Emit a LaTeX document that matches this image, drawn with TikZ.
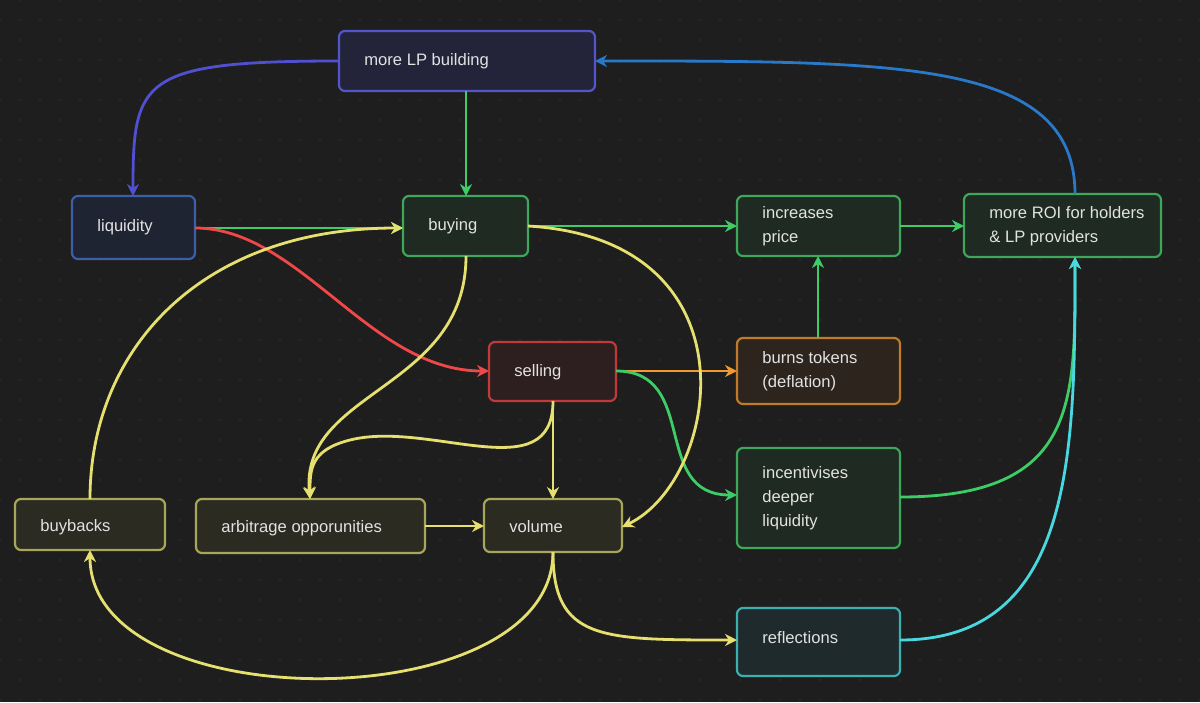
\documentclass[tikz,border=0pt]{standalone}
\usepackage{fontspec}
\setmainfont{Liberation Sans}
\usetikzlibrary{arrows.meta}
\definecolor{bg}{HTML}{1E1E1E}
\definecolor{txt}{HTML}{E2E2E2}
\definecolor{cblue}{HTML}{5455CC}\definecolor{fblue}{HTML}{23243A}
\definecolor{cliq}{HTML}{3D5FA8}\definecolor{fliq}{HTML}{1F2433}
\definecolor{cgreen}{HTML}{3EA85A}\definecolor{fgreen}{HTML}{1F2A22}
\definecolor{cred}{HTML}{C03A3A}\definecolor{fred}{HTML}{2D1F1F}
\definecolor{corange}{HTML}{C07A2A}\definecolor{forange}{HTML}{2D251D}
\definecolor{colive}{HTML}{A8A65A}\definecolor{folive}{HTML}{2B2B22}
\definecolor{cteal}{HTML}{3AB0B0}\definecolor{fteal}{HTML}{1F2A2C}
\definecolor{egreen}{HTML}{3ECC66}\definecolor{eyellow}{HTML}{E6E070}
\definecolor{ered}{HTML}{F04848}\definecolor{eorange}{HTML}{F09A30}
\definecolor{eblue}{HTML}{2A78C8}\definecolor{epurple}{HTML}{5050D0}
\definecolor{ecyan}{HTML}{4AD8E0}
\begin{document}
\begin{tikzpicture}[x=0.5pt,y=-0.5pt,
  box/.style={rounded corners=3pt,line width=1.1pt},
  lab/.style={text=txt,font=\fontsize{8.3}{12}\selectfont,align=left,anchor=west,inner sep=0pt},
  e/.style={line width=1.4pt,-{Stealth[length=6pt,width=6pt]}}]
\fill[bg] (0,0) rectangle (1200,702);
\useasboundingbox (0,0) rectangle (1200,702);
\foreach \i in {0,20,...,1200}{\foreach \j in {0,20,...,700}{\fill[white!18!bg] (\i,\j) circle (0.6);}}
% boxes
\draw[box,draw=cblue,fill=fblue] (339,31) rectangle (595,91); \node[lab] (lp) at (364,61) {more LP building};
\draw[box,draw=cliq,fill=fliq] (72,196) rectangle (195,259); \node[lab] (liq) at (97,227) {liquidity};
\draw[box,draw=cgreen,fill=fgreen] (403,196) rectangle (528,256); \node[lab] (buy) at (428,226) {buying};
\draw[box,draw=cgreen,fill=fgreen] (737,196) rectangle (900,256); \node[lab] (inc) at (762,226) {increases\\price};
\draw[box,draw=cgreen,fill=fgreen] (964,194) rectangle (1161,257); \node[lab] (roi) at (989,226) {more ROI for holders\\\& LP providers};
\draw[box,draw=cred,fill=fred] (489,342) rectangle (616,401); \node[lab] (sell) at (514,372) {selling};
\draw[box,draw=corange,fill=forange] (737,338) rectangle (900,404); \node[lab] (burn) at (762,371) {burns tokens\\(deflation)};
\draw[box,draw=cgreen,fill=fgreen] (737,448) rectangle (900,548); \node[lab] (ince) at (762,498) {incentivises\\deeper\\liquidity};
\draw[box,draw=colive,fill=folive] (15,499) rectangle (165,550); \node[lab] (bb) at (40,527) {buybacks};
\draw[box,draw=colive,fill=folive] (196,499) rectangle (425,553); \node[lab] (arb) at (221,528) {arbitrage opporunities};
\draw[box,draw=colive,fill=folive] (484,499) rectangle (622,552); \node[lab] (vol) at (509,527) {volume};
\draw[box,draw=cteal,fill=fteal] (737,608) rectangle (900,676); \node[lab] (refl) at (762,638) {reflections};
% named anchor points
\coordinate (lpL) at (339,61); \coordinate (lpB) at (466,91); \coordinate (lpR) at (595,61);
\coordinate (liqT) at (133,196); \coordinate (liqR) at (195,228);
\coordinate (buyT) at (466,196); \coordinate (buyL) at (403,228); \coordinate (buyR) at (528,226); \coordinate (buyB) at (466,256);
\coordinate (incL) at (737,226); \coordinate (incR) at (900,226); \coordinate (incB) at (818,256);
\coordinate (roiL) at (964,226); \coordinate (roiT) at (1075,194); \coordinate (roiB) at (1075,257);
\coordinate (sellL) at (489,371); \coordinate (sellR) at (616,371); \coordinate (sellB) at (553,401);
\coordinate (burnL) at (737,371); \coordinate (burnT) at (818,338);
\coordinate (inceL) at (737,495); \coordinate (inceR) at (900,497);
\coordinate (bbT) at (90,499); \coordinate (bbB) at (90,550);
\coordinate (arbT) at (310,499); \coordinate (arbR) at (425,526);
\coordinate (volT) at (553,499); \coordinate (volL) at (484,526); \coordinate (volR) at (622,527); \coordinate (volB) at (553,552);
\coordinate (reflL) at (737,640); \coordinate (reflR) at (900,640);
% edges
\draw[e,epurple] (lpL) .. controls (140,61) and (133,80) .. (liqT);
\draw[e,egreen] (lpB) -- (buyT);
\draw[e,eblue] (roiT) .. controls (1075,60) and (900,61) .. (lpR);
\draw[e,egreen] (liqR) -- (buyL);
\draw[e,ered] (liqR) .. controls (300,228) and (370,371) .. (sellL);
\draw[e,egreen] (buyR) -- (incL);
\draw[e,egreen] (incR) -- (roiL);
\draw[e,egreen] (burnT) -- (incB);
\draw[e,eorange] (sellR) -- (burnL);
\draw[e,egreen] (sellR) .. controls (700,371) and (650,495) .. (inceL);
\draw[e,egreen] (inceR) .. controls (1080,497) and (1075,400) .. (roiB);
\draw[e,ecyan] (reflR) .. controls (1075,640) and (1075,450) .. (roiB);
\draw[e,eyellow] (buyB) .. controls (466,390) and (300,390) .. (arbT);
\draw[e,eyellow] (sellB) .. controls (553,490) and (430,420) .. (350,440) .. controls (310,450) and (310,470) .. (arbT);
\draw[e,eyellow] (sellB) -- (volT);
\draw[e,eyellow] (buyR) .. controls (760,240) and (720,480) .. (volR);
\draw[e,eyellow] (arbR) -- (volL);
\draw[e,eyellow] (bbT) .. controls (90,350) and (200,228) .. (buyL);
\draw[e,eyellow] (volB) .. controls (553,720) and (90,720) .. (bbB);
\draw[e,eyellow] (volB) .. controls (553,640) and (600,640) .. (reflL);
\end{tikzpicture}
\end{document}
